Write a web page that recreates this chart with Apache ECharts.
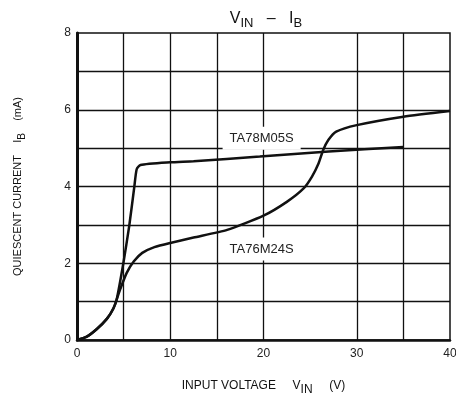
<!DOCTYPE html>
<html>
<head>
<meta charset="utf-8">
<script src="https://cdn.jsdelivr.net/npm/echarts@6/dist/echarts.min.js"></script>
<style>html,body{margin:0;padding:0;background:#fff}#c{width:456px;height:396px}</style>
</head>
<body>
<div id="c"></div>
<script>
// ---- data ----
var xTicks = [0, 10, 20, 30, 40];
var xGrid = [5, 10, 15, 20, 30, 35];
var yGrid = [1, 2, 3, 4, 5, 6, 7];
var ta78m05s = [[0,0],[1,0.08],[2.1,0.28],[3.2,0.55],[3.9,0.82],[4.25,1.05],[4.97,2.0],[5.6,2.97],[6.15,4.0],[6.4,4.45],[6.8,4.56],[10,4.63],[12.5,4.66],[19.6,4.78],[27,4.91],[35,5.03]];
var ta76m24s = [[0,0],[1,0.08],[2.1,0.28],[3.2,0.55],[3.9,0.82],[4.6,1.3],[5.33,1.75],[6.1,2.05],[7,2.27],[8.3,2.42],[10,2.53],[12.5,2.67],[16.1,2.87],[20,3.24],[22.5,3.6],[24.3,3.95],[25.2,4.26],[25.9,4.6],[26.4,4.95],[26.95,5.21],[27.8,5.43],[30,5.6],[35,5.82],[40,5.97]];
var seriesLabels = [
  {name: 'TA78M05S', coord: [19.8, 5.26]},
  {name: 'TA76M24S', coord: [19.8, 2.37]}
];

var chart = echarts.init(document.getElementById('c'));
var font = 'Liberation Sans, Arial, sans-serif';
var gridLines = xGrid.map(function(v){return {xAxis: v};}).concat(yGrid.map(function(v){return {yAxis: v};}));

chart.setOption({
  animation: false,
  backgroundColor: '#fff',
  title: {
    text: '{a|V}{s|IN}{a|   –   I}{s|B}',
    left: 261, top: 3, textAlign: 'center',
    textStyle: {
      rich: {
        a: {fontFamily: font, fontSize: 16, fontWeight: 'normal', color: '#111'},
        s: {fontFamily: font, fontSize: 13, fontWeight: 'normal', color: '#111', padding: [9, 0, 0, 0]}
      }
    }
  },
  grid: {left: 77, right: 6, top: 33, bottom: 56, show: true, borderColor: '#111', borderWidth: 1.5,
    containLabel: false, outerBoundsMode: 'none'},
  xAxis: {
    type: 'value', min: 0, max: 40, interval: 10,
    name: 'INPUT VOLTAGE     V{s|IN}     (V)', nameLocation: 'middle', nameGap: 36,
    nameTextStyle: {fontFamily: font, fontSize: 12, color: '#111',
      rich: {s: {fontFamily: font, fontSize: 12, color: '#111', padding: [8,0,0,0]}}},
    axisLine: {show: true, lineStyle: {color: '#111', width: 2.5}},
    axisTick: {show: false},
    splitLine: {show: false},
    axisLabel: {fontFamily: font, fontSize: 12, color: '#222', margin: 8,
      formatter: function(v){ return xTicks.indexOf(v) >= 0 ? String(v) : ''; }}
  },
  yAxis: {
    type: 'value', min: 0, max: 8, interval: 2,
    name: 'QUIESCENT CURRENT    I{s|B}    (mA)', nameLocation: 'middle', nameGap: 50,
    nameTextStyle: {fontFamily: font, fontSize: 11, color: '#111',
      rich: {s: {fontFamily: font, fontSize: 10, color: '#111', padding: [8,0,0,0]}}},
    axisLine: {show: true, lineStyle: {color: '#111', width: 3}},
    axisTick: {show: false},
    splitLine: {show: false},
    axisLabel: {fontFamily: font, fontSize: 12, color: '#222', margin: 6}
  },
  series: [
    {
      type: 'line', data: [], z: 1, silent: true,
      markLine: {
        silent: true, symbol: 'none', animation: false,
        label: {show: false},
        lineStyle: {color: '#111', width: 1.3, type: 'solid'},
        data: gridLines
      }
    },
    {
      type: 'scatter', data: [], z: 2, silent: true,
      markPoint: {
        symbol: 'rect', symbolSize: 0, silent: true,
        label: {
          show: true, position: 'inside', formatter: '{b}',
          fontFamily: font, fontSize: 13, color: '#222',
          backgroundColor: '#fff', padding: [5, 7, 5, 7]
        },
        data: seriesLabels
      }
    },
    {
      name: 'TA78M05S', type: 'line', data: ta78m05s, z: 3,
      showSymbol: false, smooth: 0.2,
      lineStyle: {color: '#111', width: 2.5}
    },
    {
      name: 'TA76M24S', type: 'line', data: ta76m24s, z: 3,
      showSymbol: false, smooth: 0.2,
      lineStyle: {color: '#111', width: 2.5}
    }
  ]
});
</script>
</body>
</html>
